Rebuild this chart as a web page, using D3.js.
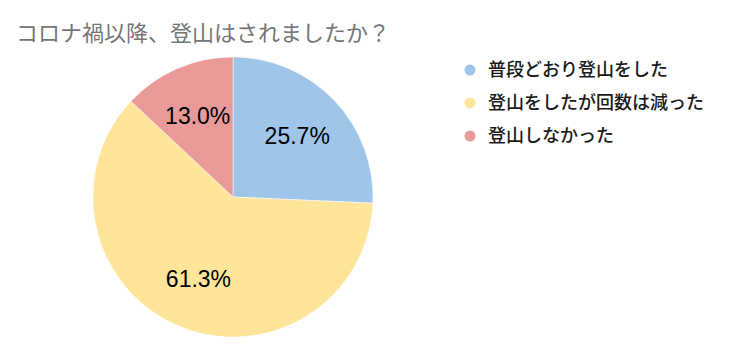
<!DOCTYPE html>
<html lang="ja">
<head>
<meta charset="UTF-8">
<title>コロナ禍以降、登山はされましたか？</title>
<script src="https://d3js.org/d3.v7.min.js"></script>
<style>
    body { margin: 0; background: #fff; }
    svg { display: block; }
</style>
</head>
<body>
<svg id="chart"></svg>
<script>
// data
const categories = ["普段どおり登山をした", "登山をしたが回数は減った", "登山しなかった"];
const shares = [25.7, 61.3, 13.0];
const colors = ["#9fc5e8", "#ffe599", "#ea9999"];
const titleText = "コロナ禍以降、登山はされましたか？";

const width = 729, height = 354;
const cx = 233, cy = 197, radius = 140;
const jpFont = "'Noto Sans CJK JP', 'Noto Sans', sans-serif";

const svg = d3.select("#chart").attr("width", width).attr("height", height);

svg.append("text")
    .attr("x", 16)
    .attr("y", 41)
    .attr("font-family", jpFont)
    .attr("font-size", 22)
    .attr("fill", "#757575")
    .text(titleText);

const data = categories.map((c, i) => ({ name: c, value: shares[i], color: colors[i] }));

const pie = d3.pie().sort(null).value(d => d.value);
const arcs = pie(data);

const arc = d3.arc().innerRadius(0).outerRadius(radius);
const labelArc = d3.arc().innerRadius(radius * 0.635).outerRadius(radius * 0.635);

const g = svg.append("g").attr("transform", `translate(${cx},${cy})`);

g.selectAll("path")
    .data(arcs)
    .enter().append("path")
    .attr("d", arc)
    .attr("fill", d => d.data.color)
    .attr("stroke", "#fff")
    .attr("stroke-width", 0.5);

g.selectAll("text")
    .data(arcs)
    .enter().append("text")
    .attr("transform", d => `translate(${labelArc.centroid(d)})`)
    .attr("text-anchor", "middle")
    .attr("dy", "0.36em")
    .attr("font-family", "'Liberation Sans', Arial, sans-serif")
    .attr("font-size", 23)
    .attr("fill", "#000")
    .text(d => d.data.value.toFixed(1) + "%");

// legend
const legend = svg.append("g").attr("transform", "translate(470,70)");
const item = legend.selectAll("g")
    .data(data)
    .enter().append("g")
    .attr("transform", (d, i) => `translate(0,${i * 33})`);

item.append("circle")
    .attr("r", 5.5)
    .attr("fill", d => d.color);

item.append("text")
    .attr("x", 18)
    .attr("dy", "0.35em")
    .attr("font-family", jpFont)
    .attr("font-size", 18)
    .attr("font-weight", 500)
    .attr("fill", "#1a1a1a")
    .text(d => d.name);
</script>
</body>
</html>
